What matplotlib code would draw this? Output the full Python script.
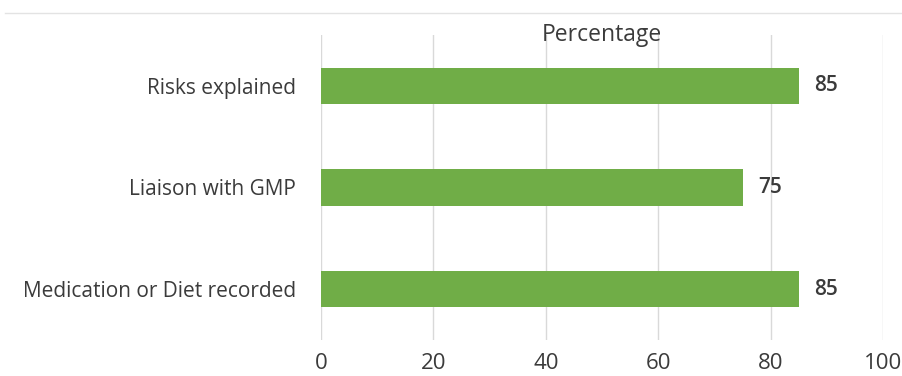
import matplotlib.pyplot as plt
from matplotlib.lines import Line2D

categories = ["Medication or Diet recorded", "Liaison with GMP", "Risks explained"]
values = [85, 75, 85]
x_ticks = [0, 20, 40, 60, 80, 100]

bar_color = "#70AD47"
text_color = "#3B3B3B"
grid_color = "#D9D9D9"

fig = plt.figure(figsize=(9.03, 3.76), dpi=100)
ax = fig.add_axes([0.3555, 0.0957, 0.6225, 0.8113])

ax.barh(range(len(categories)), values, height=0.36, color=bar_color, zorder=3)

# value labels to the right of each bar
for i, v in enumerate(values):
    ax.annotate(f"{v}", xy=(v, i), xytext=(11, 0), textcoords="offset points",
                va="center", ha="left", fontsize=15, fontweight="semibold",
                color=text_color, family="Open Sans")

ax.set_xlim(0, 100)
ax.set_ylim(-0.5, len(categories) - 0.5)
ax.set_xticks(x_ticks)
ax.set_xticklabels([str(t) for t in x_ticks], fontsize=16, color=text_color, family="Open Sans")
ax.set_yticks(range(len(categories)))
ax.set_yticklabels(categories, fontsize=15, color=text_color, family="Open Sans")
ax.tick_params(axis="both", length=0)
ax.tick_params(axis="y", pad=18)
ax.tick_params(axis="x", pad=9)

ax.grid(True, axis="x", color=grid_color, linewidth=1, zorder=0)
for side in ["top", "right", "bottom", "left"]:
    ax.spines[side].set_visible(False)

# title sits low, overlapping the top of the gridlines
ax.text(0.5, 1.0, "Percentage", transform=ax.transAxes, ha="center", va="center",
        fontsize=16.5, color=text_color, family="Open Sans", zorder=4)

# thin border line across the top
fig.add_artist(Line2D([0.005, 1.0], [1 - 13 / 376, 1 - 13 / 376], color="#E3E3E3", linewidth=1))

fig.savefig("out.png", dpi=100)
